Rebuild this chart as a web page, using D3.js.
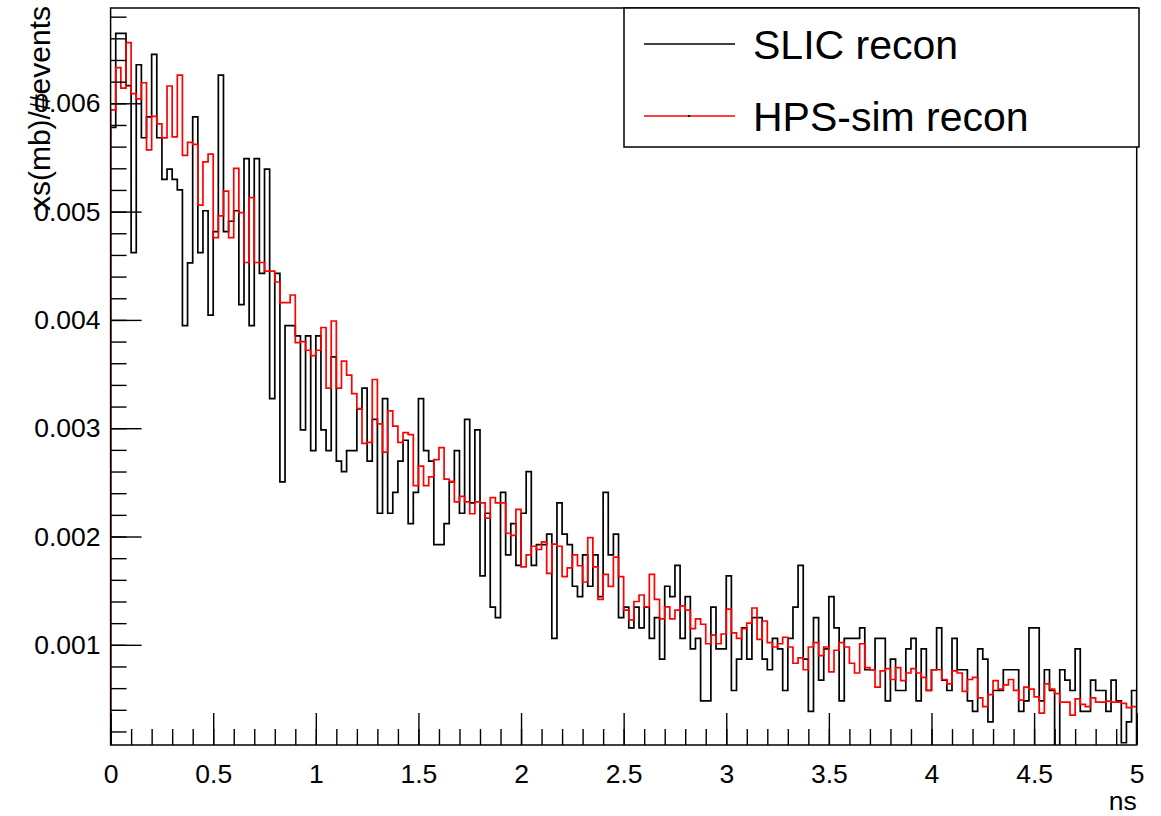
<!DOCTYPE html>
<html>
<head>
<meta charset="utf-8">
<script src="https://cdn.jsdelivr.net/npm/d3@7"></script>
<style>
  html, body { margin: 0; padding: 0; background: #ffffff; }
  svg { display: block; }
  text { font-family: "Liberation Sans", Arial, Helvetica, sans-serif; fill: #000; }
</style>
</head>
<body>
<script>
// ---------------- data (values in units of 1e-3) ----------------
const valueUnit = 1e-3;
const xDomain = [0, 5];          // ns
const binWidth = 0.025;          // ns per bin (200 bins)
const yDomain = [0.075, 6.88];   // visible y range, units of 1e-3

const seriesNames = ["SLIC recon", "HPS-sim recon"];
const seriesColors = ["#000000", "#ff0000"];

const slicRecon = [
 5.778,6.645,6.645,6.163,4.622,6.356,5.682,5.874,6.452,5.682,
 5.297,5.393,5.297,5.200,3.948,4.526,5.874,4.622,5.008,4.045,
 4.815,6.260,4.815,4.911,5.008,4.141,5.489,3.948,5.489,4.430,
 5.393,3.274,4.430,2.504,3.948,3.948,3.852,2.985,3.852,2.793,
 3.852,2.985,2.793,3.659,2.696,2.600,2.793,2.793,3.178,3.371,
 2.696,3.082,2.215,3.274,2.215,2.408,2.696,2.889,2.119,2.408,
 3.274,2.793,2.696,1.926,1.926,2.119,2.504,2.793,2.215,3.082,
 2.311,2.985,1.637,2.215,1.348,1.252,2.408,1.830,2.119,1.733,
 2.215,2.600,1.733,1.926,1.926,2.022,1.059,2.311,2.022,1.926,
 1.541,1.445,1.830,1.541,1.830,1.445,2.408,1.830,2.022,1.252,
 1.348,1.156,1.348,1.156,1.348,1.059,1.252,0.867,1.541,1.445,
 1.733,1.059,1.445,0.963,1.059,0.482,0.482,1.348,0.963,0.963,
 1.637,0.578,0.867,1.156,0.867,1.252,1.252,0.867,0.770,1.059,
 0.963,0.578,1.059,1.348,1.733,0.867,0.385,1.252,0.674,0.963,
 1.445,1.156,0.482,1.059,1.059,1.059,1.156,0.770,0.770,1.059,
 1.059,0.482,0.867,0.578,0.578,0.963,1.059,0.482,0.963,0.578,
 0.770,1.156,0.674,0.578,1.059,0.770,0.770,0.482,0.385,0.963,
 0.867,0.289,0.578,0.578,0.770,0.770,0.770,0.385,0.482,1.156,
 1.156,0.482,0.770,0.578,0.000,0.770,0.674,0.578,0.963,0.385,
 0.385,0.674,0.578,0.578,0.385,0.674,0.482,0.096,0.289,0.578
];

const hpsSimRecon = [
 5.94,6.33,6.14,6.56,6.09,6.04,6.19,5.57,5.88,5.81,
 5.68,6.16,5.69,6.26,5.52,5.64,5.62,5.06,5.46,5.53,
 4.76,4.96,5.19,4.76,5.40,4.99,4.53,5.13,4.53,4.53,
 4.45,4.45,4.35,4.16,4.16,4.23,3.79,3.80,3.72,3.67,
 3.72,3.93,3.37,3.99,3.37,3.62,3.49,3.32,3.18,2.86,
 2.87,3.45,3.04,2.78,3.16,3.02,2.87,2.96,2.94,2.47,
 2.65,2.47,2.55,2.71,2.82,2.53,2.51,2.32,2.37,2.32,
 2.21,2.32,2.31,2.17,2.36,2.31,2.31,2.03,2.01,2.25,
 1.72,1.83,1.91,1.88,1.95,1.66,1.93,1.91,1.63,1.71,
 1.83,1.73,1.58,1.99,1.72,1.42,1.65,1.54,1.81,1.63,
 1.32,1.23,1.40,1.46,1.35,1.65,1.42,1.24,1.35,1.24,
 1.32,1.36,1.32,1.15,1.24,1.19,1.01,1.09,1.01,1.10,
 1.33,1.11,1.06,1.15,1.20,1.34,1.05,1.22,1.02,0.98,
 1.01,1.07,0.98,0.83,0.88,0.77,0.98,1.02,0.90,0.98,
 0.75,0.95,1.02,0.98,0.83,0.74,1.01,0.79,0.77,0.61,
 0.76,0.78,0.68,0.79,0.67,0.74,0.78,0.74,0.70,0.58,
 0.77,0.77,0.68,0.64,0.76,0.74,0.57,0.68,0.70,0.51,
 0.43,0.54,0.67,0.59,0.63,0.68,0.58,0.49,0.61,0.59,
 0.52,0.37,0.64,0.59,0.55,0.47,0.47,0.35,0.50,0.45,
 0.43,0.51,0.47,0.47,0.48,0.47,0.47,0.46,0.42,0.43
];

const xTickLabels = ["0","0.5","1","1.5","2","2.5","3","3.5","4","4.5","5"];
const yTickLabels = ["0.001","0.002","0.003","0.004","0.005","0.006"];
const xTitle = "ns";
const yTitle = "xs(mb)/#events";

// ---------------- layout ----------------
const W = 1161, H = 816;
const frame = { left: 110.6, right: 1136.7, top: 8, bottom: 745 };

const svg = d3.select("body").append("svg").attr("width", W).attr("height", H);
svg.append("rect").attr("width", W).attr("height", H).attr("fill", "#fff");

const x = d3.scaleLinear().domain(xDomain).range([frame.left, frame.right]);
const y = d3.scaleLinear().domain(yDomain.map(v => v * valueUnit)).range([frame.bottom, frame.top]);

svg.append("clipPath").attr("id", "frameClip")
  .append("rect")
  .attr("x", frame.left).attr("y", frame.top)
  .attr("width", frame.right - frame.left).attr("height", frame.bottom - frame.top);

// ---------------- histograms ----------------
function stepPoints(values) {
  const pts = [[0, yDomain[0] * valueUnit]];
  values.forEach((v, i) => {
    pts.push([i * binWidth, v * valueUnit]);
    pts.push([(i + 1) * binWidth, v * valueUnit]);
  });
  pts.push([values.length * binWidth, yDomain[0] * valueUnit]);
  return pts;
}
const line = d3.line().x(d => x(d[0])).y(d => y(d[1]));
const plot = svg.append("g").attr("clip-path", "url(#frameClip)");
[slicRecon, hpsSimRecon].forEach((vals, k) => {
  plot.append("path")
    .attr("d", line(stepPoints(vals)))
    .attr("fill", "none")
    .attr("stroke", seriesColors[k])
    .attr("stroke-width", 1.7)
    .attr("stroke-linejoin", "miter");
});

// ---------------- axes ----------------
const fontSize = 26.5;
const xMajor = x.ticks(10);
const xMinor = x.ticks(50);
const yMajor = y.ticks(6);
const yMinor = y.ticks(35);

svg.append("g").attr("transform", `translate(0,${frame.bottom})`)
  .call(d3.axisBottom(x).tickValues(xMinor).tickSize(-16).tickFormat(""))
  .call(g => g.select(".domain").remove())
  .call(g => g.selectAll("line").attr("stroke", "#000").attr("stroke-width", 1.4));
svg.append("g").attr("transform", `translate(0,${frame.bottom})`)
  .call(d3.axisBottom(x).tickValues(xMajor).tickSize(-32).tickPadding(19)
        .tickFormat((d, i) => xTickLabels[i]))
  .call(g => g.select(".domain").remove())
  .call(g => g.selectAll("line").attr("stroke", "#000").attr("stroke-width", 1.4))
  .call(g => g.selectAll("text").attr("font-size", fontSize)
        .attr("font-family", "Liberation Sans, Arial, sans-serif").attr("fill", "#000"));

svg.append("g").attr("transform", `translate(${frame.left},0)`)
  .call(d3.axisLeft(y).tickValues(yMinor).tickSize(-16).tickFormat(""))
  .call(g => g.select(".domain").remove())
  .call(g => g.selectAll("line").attr("stroke", "#000").attr("stroke-width", 1.4));
svg.append("g").attr("transform", `translate(${frame.left},0)`)
  .call(d3.axisLeft(y).tickValues(yMajor).tickSize(-31).tickPadding(10)
        .tickFormat((d, i) => yTickLabels[i]))
  .call(g => g.select(".domain").remove())
  .call(g => g.selectAll("line").attr("stroke", "#000").attr("stroke-width", 1.4))
  .call(g => g.selectAll("text").attr("font-size", fontSize)
        .attr("font-family", "Liberation Sans, Arial, sans-serif").attr("fill", "#000"));

svg.append("rect")
  .attr("x", frame.left).attr("y", frame.top)
  .attr("width", frame.right - frame.left).attr("height", frame.bottom - frame.top)
  .attr("fill", "none").attr("stroke", "#000").attr("stroke-width", 1.5);

svg.append("text")
  .attr("x", frame.right).attr("y", 810)
  .attr("text-anchor", "end").attr("font-size", fontSize)
  .text(xTitle);
svg.append("text")
  .attr("transform", `translate(50,6) rotate(-90)`)
  .attr("text-anchor", "end").attr("font-size", 30)
  .text(yTitle);

// ---------------- legend ----------------
const leg = { x1: 624, y1: 8, x2: 1139, y2: 147 };
const legend = svg.append("g");
legend.append("rect")
  .attr("x", leg.x1).attr("y", leg.y1)
  .attr("width", leg.x2 - leg.x1).attr("height", leg.y2 - leg.y1)
  .attr("fill", "#fff").attr("stroke", "#000").attr("stroke-width", 1.5);
const rowY = [44, 116];
const textY = [59, 131];
seriesNames.forEach((name, k) => {
  legend.append("line")
    .attr("x1", 644).attr("x2", 735)
    .attr("y1", rowY[k]).attr("y2", rowY[k])
    .attr("stroke", seriesColors[k]).attr("stroke-width", 1.6);
  legend.append("text")
    .attr("x", 753).attr("y", textY[k])
    .attr("font-size", 41)
    .text(name);
});
legend.append("rect").attr("x", 688).attr("y", rowY[1] - 1).attr("width", 2).attr("height", 2).attr("fill", "#000");
</script>
</body>
</html>
